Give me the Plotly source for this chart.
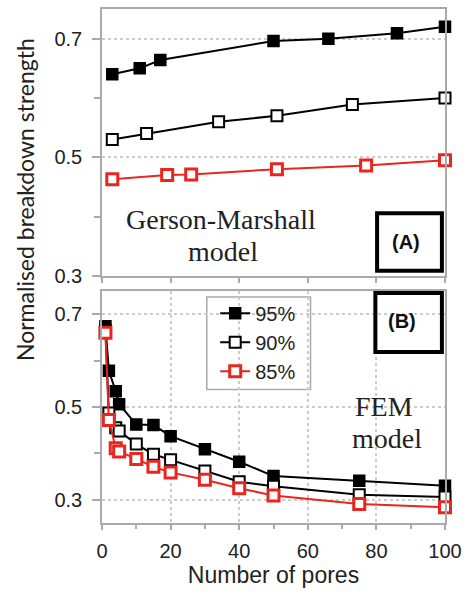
import plotly.graph_objects as go

# ---------------- data ----------------
# (A) Gerson-Marshall model
gm_x_95 = [3, 11, 17, 50, 66, 86, 100]
gm_y_95 = [0.640, 0.650, 0.664, 0.696, 0.700, 0.709, 0.720]
gm_x_90 = [3, 13, 34, 51, 73, 100]
gm_y_90 = [0.530, 0.540, 0.560, 0.570, 0.589, 0.600]
gm_x_85 = [3, 19, 26, 51, 77, 100]
gm_y_85 = [0.463, 0.470, 0.471, 0.480, 0.486, 0.495]

# (B) FEM model
fem_x = [1, 2, 4, 5, 10, 15, 20, 30, 40, 50, 75, 100]
fem_y_95 = [0.674, 0.578, 0.534, 0.506, 0.462, 0.461, 0.437, 0.409, 0.382, 0.351, 0.341, 0.330]
fem_y_90 = [0.664, 0.487, 0.455, 0.448, 0.420, 0.398, 0.386, 0.362, 0.339, 0.329, 0.311, 0.306]
fem_y_85 = [0.660, 0.472, 0.411, 0.404, 0.388, 0.371, 0.359, 0.343, 0.325, 0.309, 0.291, 0.284]

series_names = ["95%", "90%", "85%"]
x_ticks = [0, 20, 40, 60, 80, 100]

RED = "#e8261f"
GRAY = "#aaaaaa"
GRID = "#cccccc"

styles = {
    "95%": dict(line=dict(color="black", width=2),
                marker=dict(symbol="square", size=11, color="black",
                            line=dict(color="black", width=1.5))),
    "90%": dict(line=dict(color="black", width=2),
                marker=dict(symbol="square", size=11, color="white",
                            line=dict(color="black", width=2))),
    "85%": dict(line=dict(color=RED, width=2),
                marker=dict(symbol="square", size=11, color="white",
                            line=dict(color=RED, width=3))),
}

fig = go.Figure()

top = {"95%": (gm_x_95, gm_y_95), "90%": (gm_x_90, gm_y_90), "85%": (gm_x_85, gm_y_85)}
bot = {"95%": fem_y_95, "90%": fem_y_90, "85%": fem_y_85}

for name in series_names:
    xs, ys = top[name]
    fig.add_trace(go.Scatter(x=xs, y=ys, mode="lines+markers", name=name,
                             legendgroup=name, showlegend=False,
                             xaxis="x", yaxis="y", cliponaxis=False,
                             **styles[name]))
for name in series_names:
    fig.add_trace(go.Scatter(x=fem_x, y=bot[name], mode="lines+markers",
                             name=name,
                             legendgroup=name, showlegend=True,
                             xaxis="x2", yaxis="y2", cliponaxis=False,
                             **styles[name]))

TICKFONT = dict(family="Liberation Sans, Arial, sans-serif", size=20, color="#222222")

common_axis = dict(showline=True, linecolor=GRAY, linewidth=1.5, mirror=True,
                   zeroline=False, tickcolor=GRAY, tickwidth=1.5,
                   tickfont=TICKFONT)

fig.update_layout(
    width=469, height=593,
    margin=dict(l=102, r=20, t=7, b=70),
    paper_bgcolor="white", plot_bgcolor="white",
    showlegend=True,
    xaxis=dict(domain=[0, 1], anchor="y", range=[0, 100], tickvals=x_ticks,
               ticks="outside", ticklen=5, showticklabels=False, showgrid=False,
               **common_axis),
    yaxis=dict(domain=[0.4806, 1], anchor="x", range=[0.3, 0.75],
               tick0=0.3, dtick=0.2, tickformat=".1f",
               ticks="outside", ticklen=8, ticklabelstandoff=6,
               showgrid=True, gridcolor=GRID, griddash="dot", gridwidth=1.5,
               minor=dict(dtick=0.1, tick0=0.3, ticks="outside", ticklen=6,
                          tickcolor=GRAY, showgrid=False),
               **common_axis),
    xaxis2=dict(domain=[0, 1], anchor="y2", range=[0, 100], tickvals=x_ticks,
                ticks="outside", ticklen=5, ticklabelstandoff=4,
                showgrid=True, gridcolor=GRID, griddash="dot", gridwidth=1.5,
                minor=dict(dtick=10, tick0=0, ticks="outside", ticklen=4,
                           tickcolor=GRAY, showgrid=False),
                title=dict(text="Number of pores", standoff=5,
                           font=dict(family="Liberation Sans, Arial, sans-serif",
                                     size=23, color="#222222")),
                **common_axis),
    yaxis2=dict(domain=[0, 0.4516], anchor="x2", range=[0.25, 0.75],
                tick0=0.3, dtick=0.2, tickformat=".1f",
                ticks="outside", ticklen=8, ticklabelstandoff=6,
                showgrid=True, gridcolor=GRID, griddash="dot", gridwidth=1.5,
                minor=dict(dtick=0.1, tick0=0.3, ticks="outside", ticklen=6,
                           tickcolor=GRAY, showgrid=False),
                **common_axis),
    legend=dict(x=0.33, y=0.446, xanchor="left", yanchor="top",
                bgcolor="rgba(0,0,0,0)", borderwidth=0,
                font=dict(family="Liberation Sans, Arial, sans-serif", size=20,
                          color="#222222"),
                tracegroupgap=0, itemwidth=30),
)

SERIF = dict(family="Liberation Serif, Times New Roman, serif", size=28, color="#222222")
BOLD = dict(family="Liberation Sans, Arial, sans-serif", size=20, color="#111111")

annotations = [
    dict(text="Gerson-Marshall", xref="x domain", yref="y domain", x=0.3475, y=0.212,
         showarrow=False, font=SERIF, xanchor="center", yanchor="middle"),
    dict(text="model", xref="x domain", yref="y domain", x=0.352, y=0.093,
         showarrow=False, font=SERIF, xanchor="center", yanchor="middle"),
    dict(text="FEM", xref="x2 domain", yref="y2 domain", x=0.823, y=0.5,
         showarrow=False, font=SERIF, xanchor="center", yanchor="middle"),
    dict(text="model", xref="x2 domain", yref="y2 domain", x=0.83, y=0.362,
         showarrow=False, font=SERIF, xanchor="center", yanchor="middle"),
    dict(text="<b>(A)</b>", xref="x domain", yref="y domain", x=0.887, y=0.127,
         showarrow=False, font=BOLD, xanchor="center", yanchor="middle"),
    dict(text="<b>(B)</b>", xref="x2 domain", yref="y2 domain", x=0.875, y=0.87,
         showarrow=False, font=BOLD, xanchor="center", yanchor="middle"),
    dict(text="Normalised breakdown strength", xref="paper", yref="paper",
         x=-0.225, y=0.63, textangle=-90, showarrow=False,
         font=dict(family="Lato, Open Sans, sans-serif", size=23, color="#222222"),
         xanchor="center", yanchor="middle"),
]
fig.update_layout(annotations=annotations)

shapes = [
    # legend frame (white box behind the legend entries)
    dict(type="rect", xref="paper", yref="paper", x0=0.3055, x1=0.608,
         y0=0.2597, y1=0.4399, fillcolor="white",
         line=dict(color=GRAY, width=1.5), layer="between"),
    dict(type="rect", xref="x domain", yref="y domain", x0=0.802, x1=0.991,
         y0=0.020, y1=0.235, line=dict(color="black", width=4), layer="above"),
    dict(type="rect", xref="x2 domain", yref="y2 domain", x0=0.797, x1=0.991,
         y0=0.737, y1=0.991, line=dict(color="black", width=4), layer="above"),
]
fig.update_layout(shapes=shapes)

fig.write_html("out.html")
